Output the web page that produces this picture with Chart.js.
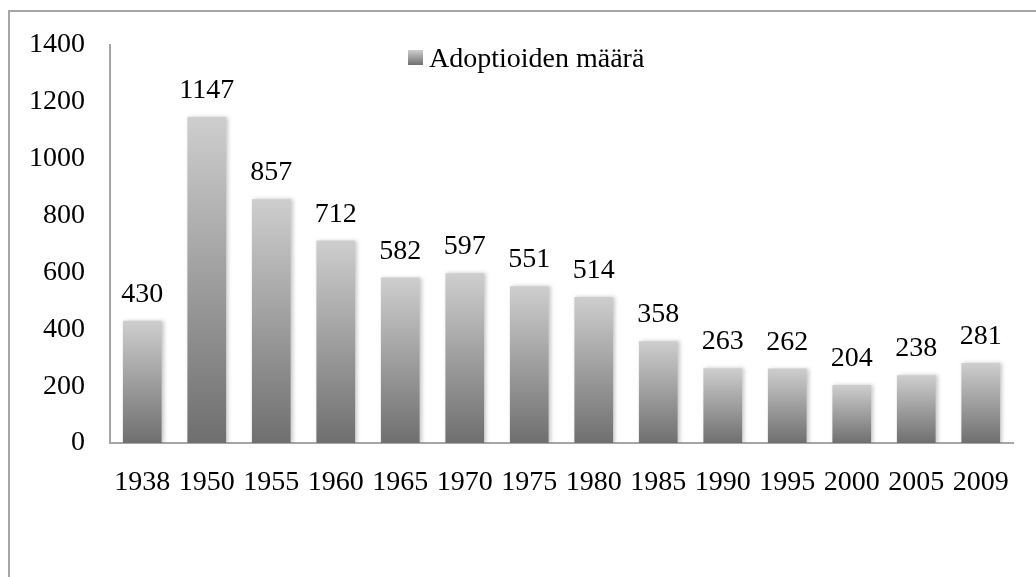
<!DOCTYPE html>
<html>
<head>
<meta charset="utf-8">
<script src="https://cdn.jsdelivr.net/npm/chart.js@4/dist/chart.umd.min.js"></script>
<style>
html,body{margin:0;padding:0;background:#fff;}
#wrap{position:relative;width:1036px;height:577px;overflow:hidden;}
#frame{position:absolute;left:8px;top:10px;width:1040px;height:580px;border-top:2px solid #a6a6a6;border-left:2px solid #a6a6a6;box-sizing:border-box;}
canvas{position:absolute;left:0;top:0;}
</style>
</head>
<body>
<div id="wrap">
<div id="frame"></div>
<canvas id="c" width="1036" height="577"></canvas>
</div>
<script>
const years = ['1938','1950','1955','1960','1965','1970','1975','1980','1985','1990','1995','2000','2005','2009'];
const adoptions = [430,1147,857,712,582,597,551,514,358,263,262,204,238,281];
const seriesLabel = 'Adoptioiden määrä';
const yTicks = [0,200,400,600,800,1000,1200,1400];

const FONT = '"Liberation Serif", "DejaVu Serif", serif';
const FSIZE = 28;

function barGradient(c) {
  const chart = c.chart;
  if (!chart.chartArea || c.type !== 'data') return '#999999';
  const ys = chart.scales.y;
  const top = ys.getPixelForValue(c.parsed ? c.parsed.y : c.raw);
  const bot = ys.getPixelForValue(0);
  const g = chart.ctx.createLinearGradient(0, top, 0, bot);
  g.addColorStop(0, '#cecece');
  g.addColorStop(1, '#6f6f6f');
  return g;
}

const shadowPlugin = {
  id: 'shadow',
  beforeDatasetsDraw(chart) {
    const ctx = chart.ctx;
    ctx.save();
    ctx.shadowColor = 'rgba(0,0,0,0.22)';
    ctx.shadowBlur = 4;
    ctx.shadowOffsetX = 2;
    ctx.shadowOffsetY = 0;
  },
  afterDatasetsDraw(chart) {
    chart.ctx.restore();
  }
};

const valueLabels = {
  id: 'valueLabels',
  afterDatasetsDraw(chart) {
    const ctx = chart.ctx;
    const meta = chart.getDatasetMeta(0);
    ctx.save();
    ctx.font = FSIZE + 'px ' + FONT;
    ctx.fillStyle = '#000';
    ctx.textAlign = 'center';
    ctx.textBaseline = 'alphabetic';
    meta.data.forEach((el, i) => {
      ctx.fillText(String(chart.data.datasets[0].data[i]), el.x, el.y - 19);
    });
    ctx.restore();
  }
};

const customLegend = {
  id: 'customLegend',
  afterDraw(chart) {
    const ctx = chart.ctx;
    const x = 408, y = 50, s = 15;
    ctx.save();
    const g = ctx.createLinearGradient(0, y, 0, y + s);
    g.addColorStop(0, '#cecece');
    g.addColorStop(1, '#6f6f6f');
    ctx.fillStyle = g;
    ctx.fillRect(x, y, s, s);
    ctx.font = FSIZE + 'px ' + FONT;
    ctx.fillStyle = '#000';
    ctx.textAlign = 'left';
    ctx.textBaseline = 'alphabetic';
    ctx.fillText(chart.data.datasets[0].label, x + s + 6, 67);
    ctx.restore();
  }
};

new Chart(document.getElementById('c'), {
  type: 'bar',
  data: {
    labels: years,
    datasets: [{
      label: seriesLabel,
      data: adoptions,
      backgroundColor: barGradient,
      borderWidth: 0,
      barPercentage: 0.6,
      categoryPercentage: 1.0
    }]
  },
  options: {
    responsive: false,
    animation: false,
    devicePixelRatio: 1,
    layout: { padding: { top: 45, right: 23, left: 0, bottom: 0 } },
    plugins: {
      legend: { display: false },
      tooltip: { enabled: false },
      title: { display: false }
    },
    scales: {
      x: {
        offset: true,
        grid: { display: false, drawTicks: false },
        border: { display: true, color: '#a6a6a6', width: 2 },
        ticks: { color: '#000', font: { family: FONT, size: FSIZE }, padding: 23, maxRotation: 0, autoSkip: false },
        afterFit(scale) { scale.height = 134; }
      },
      y: {
        min: 0,
        max: 1400,
        afterBuildTicks(scale) { scale.ticks = yTicks.map(v => ({ value: v })); },
        grid: { display: false, drawTicks: false },
        border: { display: true, color: '#a6a6a6', width: 2 },
        ticks: { color: '#000', font: { family: FONT, size: FSIZE }, padding: 25, callback: (v) => String(v) },
        afterFit(scale) { scale.width = 110; }
      }
    }
  },
  plugins: [shadowPlugin, valueLabels, customLegend]
});
</script>
</body>
</html>
